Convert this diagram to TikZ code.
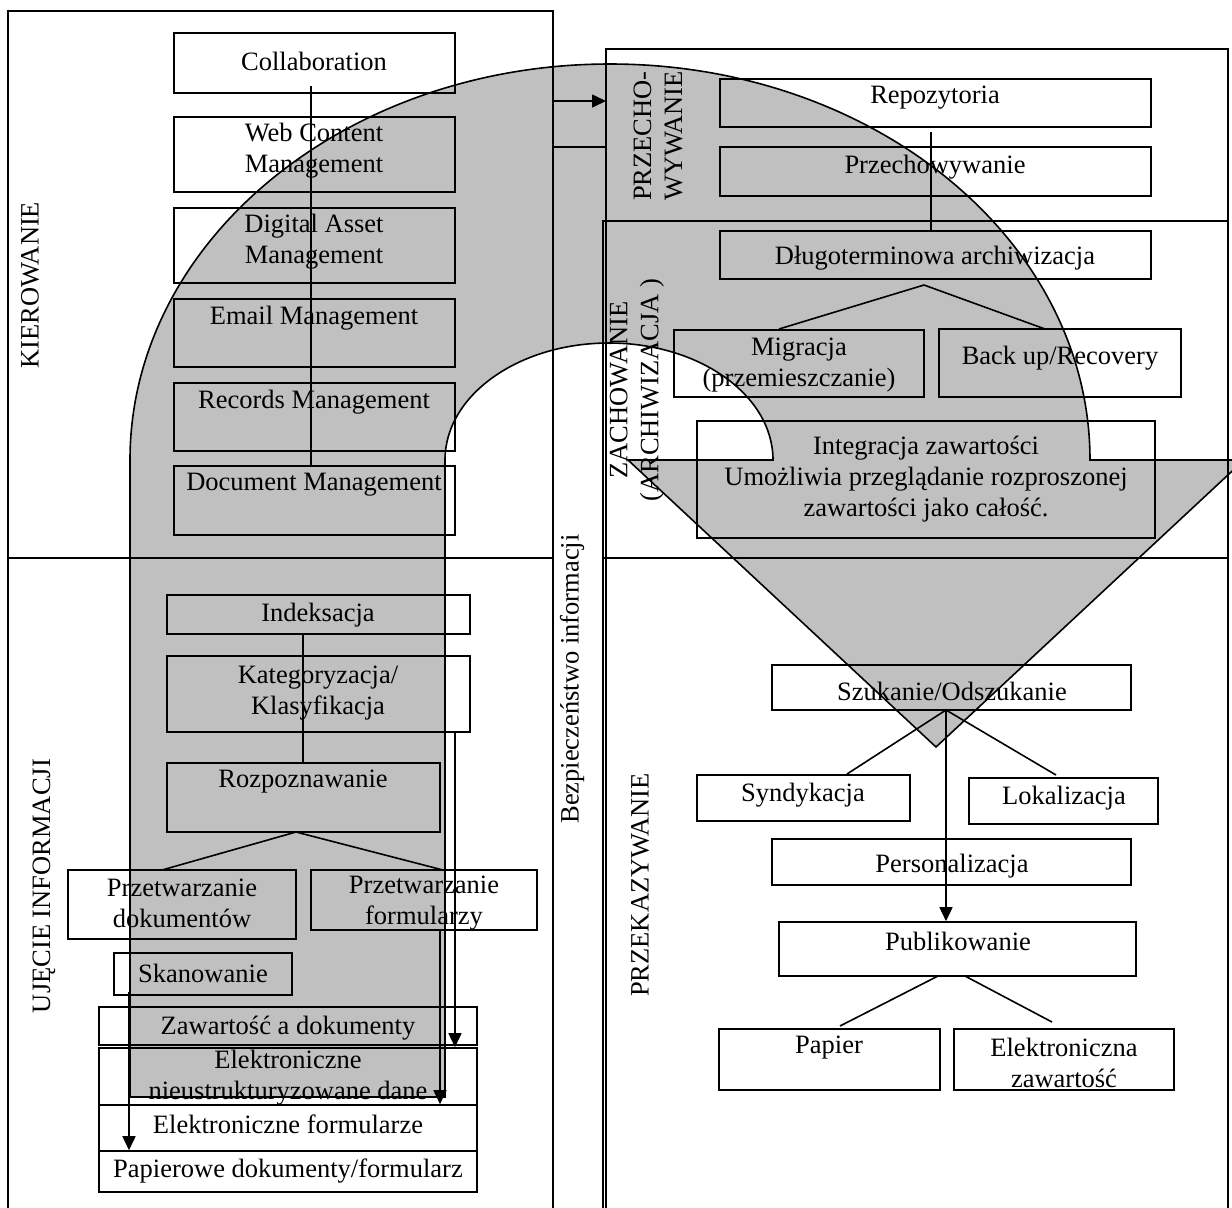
\documentclass[tikz,border=0pt]{standalone}
\usepackage{fontspec}
\setmainfont{Liberation Serif}
\usetikzlibrary{arrows.meta,calc}
\definecolor{ugray}{RGB}{192,192,192}
\newcommand\mkbox[5]{\node[box, minimum width={(#4-#2)*0.5pt}, minimum height={(#5-#3)*0.5pt}] (#1) at ({(#2+#4)/2},{(#3+#5)/2}) {};}
\begin{document}
\begin{tikzpicture}[x=0.5pt,y=-0.5pt,
  box/.style={draw, line width=0.8pt, inner sep=0pt, rectangle},
  txt/.style={inner sep=0pt, align=center, font=\fontsize{13.25}{15.5}\selectfont},
  rtxt/.style={txt, rotate=90},
  ln/.style={line width=0.8pt},
  arr/.style={ln, -{Triangle[length=7pt,width=6.5pt]}},
]
\useasboundingbox (0,0) rectangle (1232,1207);
\clip (0,0) rectangle (1232,1207);

% gray U-turn arrow
\draw[ln, fill=ugray] (130,1097) -- (130,460)
  arc[start angle=180, end angle=360, x radius=480, y radius=396]
  -- (1244,460) -- (936,747) -- (628,460) -- (773,460)
  arc[start angle=360, end angle=180, x radius=164, y radius=117]
  -- (445,1097) -- cycle;

% frames
\draw[ln] (8,1215) -- (8,11) -- (553,11) -- (553,1215);
\draw[ln] (8,558) -- (553,558);
\draw[ln] (606,1215) -- (606,49) -- (1228,49) -- (1228,1215);
\draw[ln] (603,1215) -- (603,221) -- (1228,221);
\draw[ln] (603,558) -- (1228,558);
\coordinate (la) at (553,101);
\coordinate (lb) at (553,147);
\draw[arr] (la) -- (la -| 606,0);
\draw[ln] (lb) -- (lb -| 606,0);

% left top boxes
\mkbox{collab}{174}{33}{455}{93}
\mkbox{web}{174}{117}{455}{192}
\mkbox{dam}{174}{208}{455}{283}
\mkbox{email}{174}{299}{455}{367}
\mkbox{rec}{174}{383}{455}{451}
\mkbox{docm}{174}{466}{455}{535}
% left bottom boxes
\mkbox{idx}{167}{595}{470}{634}
\mkbox{kat}{167}{656}{470}{732}
\mkbox{rozp}{167}{763}{440}{832}
\mkbox{pdok}{68}{870}{296}{939}
\mkbox{pform}{311}{870}{537}{930}
\mkbox{skan}{114}{953}{292}{995}
\mkbox{zaw}{99}{1007}{477}{1045}
\mkbox{eln}{99}{1048}{477}{1105}
\mkbox{elf}{99}{1105}{477}{1151}
\mkbox{pap}{99}{1151}{477}{1192}
% right boxes
\mkbox{repo}{720}{79}{1151}{127}
\mkbox{przech}{720}{147}{1151}{196}
\mkbox{dlugo}{720}{231}{1151}{279}
\mkbox{migr}{674}{330}{924}{397}
\mkbox{backup}{939}{329}{1181}{397}
\mkbox{integ}{697}{421}{1155}{538}
\mkbox{szuk}{772}{665}{1131}{710}
\mkbox{synd}{697}{775}{910}{821}
\mkbox{lokal}{969}{778}{1158}{824}
\mkbox{pers}{772}{839}{1131}{885}
\mkbox{publ}{779}{922}{1136}{976}
\mkbox{papier}{719}{1029}{940}{1090}
\mkbox{elz}{954}{1029}{1174}{1090}

% connectors
\coordinate (k1) at (311,86);
\draw[ln] (k1) -- (k1 |- docm.north);
\coordinate (u1) at (303,634);
\draw[ln] (u1) -- (u1 |- rozp.north);
\coordinate (u2) at (296,832);
\draw[ln] (162,870) -- (u2) -- (443,870);
\coordinate (s1) at (129,992);
\draw[arr] (s1) -- (s1 |- pap.north);
\coordinate (s2) at (440,930);
\draw[arr] (s2) -- (s2 |- elf.north);
\coordinate (s3) at (455,732);
\draw[arr] (s3) -- (s3 |- eln.north);
\coordinate (r1) at (931,132);
\draw[ln] (r1) -- (r1 |- dlugo.north);
\coordinate (r2) at (924,285);
\draw[ln] (779,329) -- (r2) -- (1045,329);
\coordinate (q1) at (946,710);
\draw[ln] (847,774) -- (q1) -- (1056,775);
\draw[arr] (q1) -- (q1 |- publ.north);
\draw[ln] (840,1026) -- (938,976);
\draw[ln] (965,976) -- (1052,1022);

% texts
\node[txt] (t-collab) at (314,61) {Collaboration};
\node[txt] (t-web) at (314,151) {Web Content\\Management};
\node[txt] (t-dam) at (314,242) {Digital Asset\\Management};
\node[txt] (t-email) at (314,318) {Email Management};
\node[txt] (t-rec) at (314,402) {Records Management};
\node[txt] (t-docm) at (314,485) {Document Management};
\node[txt] (t-idx) at (318,615) {Indeksacja};
\node[txt] (t-kat) at (318,693) {Kategoryzacja/\\Klasyfikacja};
\node[txt] (t-rozp) at (303,782) {Rozpoznawanie};
\node[txt] (t-pdok) at (182,903) {Przetwarzanie\\dokumentów};
\node[txt] (t-pform) at (424,903) {Przetwarzanie\\formularzy};
\node[txt] (t-skan) at (203,973) {Skanowanie};
\node[txt] (t-zaw) at (288,1028) {Zawartość a dokumenty};
\node[txt] (t-eln) at (288,1078) {Elektroniczne\\nieustrukturyzowane dane};
\node[txt] (t-elf) at (288,1124) {Elektroniczne formularze};
\node[txt] (t-pap) at (288,1171) {Papierowe dokumenty/formularz};
\node[txt] (t-repo) at (935,98) {Repozytoria};
\node[txt] (t-przech) at (935,167) {Przechowywanie};
\node[txt] (t-dlugo) at (935,258) {Długoterminowa archiwizacja};
\node[txt] (t-migr) at (799,365) {Migracja\\(przemieszczanie)};
\node[txt] (t-backup) at (1060,358) {Back up/Recovery};
\node[txt] (t-integ) at (926,479) {Integracja zawartości\\Umożliwia przeglądanie rozproszonej\\zawartości jako całość.};
\node[txt] (t-szuk) at (952,691) {Szukanie/Odszukanie};
\node[txt] (t-synd) at (803,795) {Syndykacja};
\node[txt] (t-lokal) at (1064,798) {Lokalizacja};
\node[txt] (t-pers) at (952,866) {Personalizacja};
\node[txt] (t-publ) at (958,941) {Publikowanie};
\node[txt] (t-papier) at (829,1048) {Papier};
\node[txt] (t-elz) at (1064,1063) {Elektroniczna\\zawartość};

\node[rtxt] (t-kier) at (30,285) {KIEROWANIE};
\node[rtxt] (t-ujec) at (44,886) {UJĘCIE INFORMACJI};
\node[rtxt] (t-bezp) at (572,679) {Bezpieczeństwo informacji};
\node[rtxt] (t-przw) at (658,136) {PRZECHO-\\WYWANIE};
\node[rtxt] (t-zach) at (637,390) {ZACHOWANIE\\(ARCHIWIZACJA )};
\node[rtxt] (t-przk) at (640,885) {PRZEKAZYWANIE};
\end{tikzpicture}
\end{document}
